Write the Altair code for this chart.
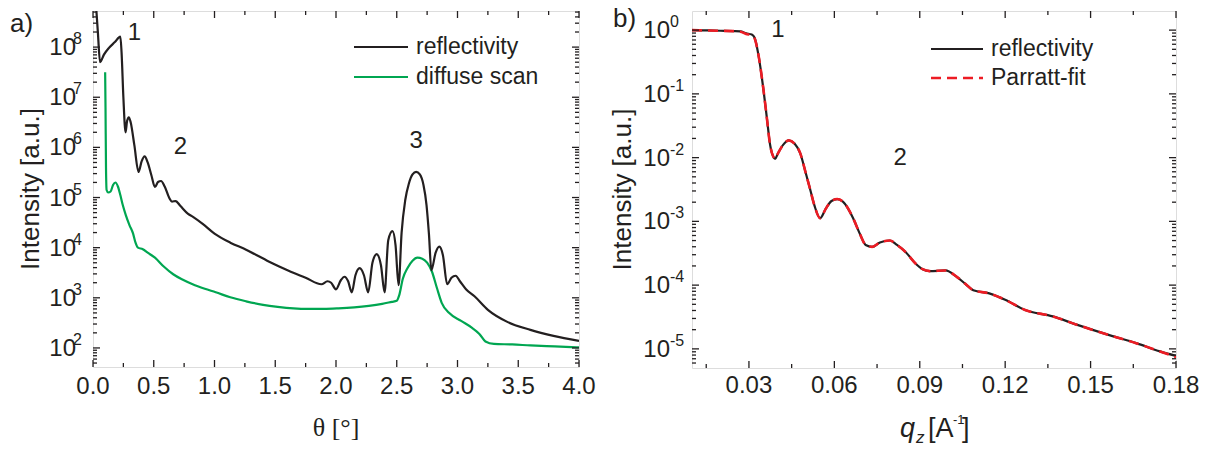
import altair as alt
import pandas as pd

BLACK = "#231f20"
GREEN = "#00a651"
RED = "#ed1c24"
FONT = "Liberation Sans"

# ---------------- panel a) : theta scan (values as log10 of intensity) ----------------
theta_refl = [0.02, 0.04, 0.058, 0.09, 0.13, 0.18, 0.225, 0.235, 0.25, 0.268, 0.28, 0.295, 0.31, 0.34,
              0.375, 0.40, 0.425, 0.45, 0.48, 0.51, 0.535, 0.56, 0.59, 0.63, 0.65, 0.68, 0.72, 0.78,
              0.82, 0.9, 1.0, 1.13, 1.26, 1.45, 1.61, 1.75, 1.88, 1.93, 1.96, 2.0, 2.04, 2.07, 2.10,
              2.13, 2.16, 2.195, 2.23, 2.265, 2.30, 2.335, 2.37, 2.40, 2.43, 2.465, 2.49, 2.515, 2.54,
              2.57, 2.60, 2.63, 2.66, 2.69, 2.72, 2.745, 2.765, 2.785, 2.82, 2.85, 2.88, 2.915, 2.95,
              2.985, 3.02, 3.07, 3.14, 3.25, 3.41, 3.60, 3.79, 4.0]
log_refl = [9.0, 8.3, 7.70, 7.85, 7.98, 8.10, 8.21, 7.9, 7.0, 6.30, 6.52, 6.60, 6.50, 6.05,
            5.51, 5.72, 5.82, 5.70, 5.45, 5.21, 5.31, 5.33, 5.22, 4.98, 4.92, 4.93, 4.83, 4.68,
            4.62, 4.48, 4.28, 4.10, 3.96, 3.72, 3.54, 3.40, 3.27, 3.33, 3.30, 3.17, 3.35, 3.42, 3.33,
            3.11, 3.45, 3.59, 3.45, 3.11, 3.70, 3.87, 3.65, 3.11, 4.15, 4.33, 4.05, 3.25, 4.30,
            4.95, 5.28, 5.46, 5.51, 5.46, 5.25, 4.85, 4.27, 3.55, 3.90, 4.02, 3.85, 3.27, 3.40,
            3.44, 3.33, 3.17, 3.03, 2.76, 2.52, 2.36, 2.24, 2.14]

theta_diff = [0.10, 0.103, 0.107, 0.112, 0.125, 0.145, 0.165, 0.185, 0.205, 0.225, 0.245, 0.27, 0.30,
              0.33, 0.35, 0.37, 0.41, 0.45, 0.51, 0.58, 0.66, 0.74, 0.82, 0.92, 1.01, 1.13, 1.26,
              1.40, 1.52, 1.65, 1.77, 1.90, 2.02, 2.15, 2.27, 2.38, 2.46, 2.50, 2.52, 2.55, 2.59,
              2.63, 2.67, 2.71, 2.75, 2.79, 2.83, 2.87, 2.93, 3.03, 3.12, 3.18, 3.23, 3.30, 3.45,
              3.60, 3.80, 4.0]
log_diff = [7.50, 6.8, 5.6, 5.15, 5.10, 5.12, 5.25, 5.30, 5.22, 5.05, 4.85, 4.65, 4.45,
            4.28, 4.10, 4.0, 3.97, 3.90, 3.80, 3.63, 3.47, 3.36, 3.27, 3.18, 3.11, 3.01, 2.93,
            2.86, 2.82, 2.79, 2.78, 2.78, 2.79, 2.81, 2.84, 2.88, 2.92, 2.94, 3.05, 3.38, 3.60,
            3.74, 3.80, 3.78, 3.70, 3.52, 3.20, 2.90, 2.70, 2.54, 2.40, 2.28, 2.13, 2.08, 2.07,
            2.05, 2.03, 2.01]

# ---------------- panel b) : qz scan (values as log10 of intensity) ----------------
qz_refl = [0.010, 0.015, 0.020, 0.0245, 0.027, 0.029, 0.031, 0.032, 0.0333, 0.035, 0.0363, 0.0374,
           0.0385, 0.0392, 0.040, 0.042, 0.044, 0.046, 0.048, 0.050, 0.0514, 0.053, 0.055, 0.057,
           0.059, 0.061, 0.063, 0.0666, 0.069, 0.071, 0.0733, 0.076, 0.0795, 0.082, 0.085, 0.0885,
           0.091, 0.0935, 0.099, 0.103, 0.106, 0.1088, 0.1144, 0.12, 0.127, 0.1367, 0.1451,
           0.1577, 0.166, 0.1744, 0.18]
log_qrefl = [0.0, -0.005, -0.01, -0.015, -0.02, -0.05, -0.07, -0.12, -0.38, -0.9, -1.38, -1.79,
             -1.98, -2.02, -1.95, -1.80, -1.73, -1.78, -1.93, -2.25, -2.48, -2.75, -2.95, -2.80,
             -2.68, -2.65, -2.69, -2.95, -3.20, -3.37, -3.40, -3.33, -3.30, -3.37, -3.48, -3.66,
             -3.75, -3.78, -3.77, -3.87, -3.98, -4.08, -4.13, -4.23, -4.39, -4.49, -4.62,
             -4.80, -4.91, -5.04, -5.11]
qz_fit = [0.010, 0.015, 0.020, 0.0245, 0.027, 0.029, 0.031, 0.032, 0.0333, 0.035, 0.0363, 0.0374,
          0.0385, 0.0392, 0.040, 0.042, 0.044, 0.046, 0.048, 0.050, 0.0514, 0.053, 0.055, 0.057,
          0.059, 0.061, 0.063, 0.0666, 0.069, 0.071, 0.0733, 0.076, 0.0795, 0.082, 0.085, 0.0885,
          0.091, 0.0935, 0.099, 0.103, 0.106, 0.1088, 0.1144, 0.12, 0.127, 0.1367, 0.1451,
          0.1577, 0.166, 0.1744, 0.18]
log_fit = [0.0, -0.005, -0.01, -0.015, -0.025, -0.06, -0.08, -0.13, -0.38, -0.9, -1.38, -1.79,
           -1.98, -2.02, -1.95, -1.80, -1.73, -1.78, -1.93, -2.25, -2.48, -2.75, -2.95, -2.80,
           -2.68, -2.65, -2.69, -2.95, -3.20, -3.37, -3.40, -3.33, -3.30, -3.37, -3.48, -3.66,
           -3.75, -3.78, -3.77, -3.87, -3.98, -4.08, -4.13, -4.23, -4.39, -4.49, -4.62,
           -4.80, -4.91, -5.04, -5.13]

# axis values and tick labels
xa_major = [0.0, 0.5, 1.0, 1.5, 2.0, 2.5, 3.0, 3.5, 4.0]
xa_labels = ["0.0", "0.5", "1.0", "1.5", "2.0", "2.5", "3.0", "3.5", "4.0"]
xa_minor = [0.25, 0.75, 1.25, 1.75, 2.25, 2.75, 3.25, 3.75]
ya_exps = [2, 3, 4, 5, 6, 7, 8]
xb_major = [0.03, 0.06, 0.09, 0.12, 0.15, 0.18]
xb_labels = ["0.03", "0.06", "0.09", "0.12", "0.15", "0.18"]
xb_minor = [0.015, 0.045, 0.075, 0.105, 0.135, 0.165]
yb_exps = [-5, -4, -3, -2, -1, 0]

WA, HA = 486, 356
WB, HB = 484, 357
YA_DOM = [10 ** 1.62, 10 ** 8.72]
YB_DOM = [10 ** -5.30, 10 ** 0.30]

xa = alt.Scale(domain=[0, 4], nice=False, zero=False)
ya = alt.Scale(type="log", domain=YA_DOM, nice=False)
xb = alt.Scale(domain=[0.01, 0.18], nice=False, zero=False)
yb = alt.Scale(type="log", domain=YB_DOM, nice=False)


def minor_log(dom, e_lo, e_hi):
    out = []
    for e in range(e_lo, e_hi + 1):
        for k in range(2, 10):
            v = k * 10.0 ** e
            if dom[0] <= v <= dom[1]:
                out.append(v)
    return out


def one(**kw):
    return pd.DataFrame({k: [v] for k, v in kw.items()})


def tick_layers(xs, ys, xmaj, xmin, ymaj, ymin, W, H):
    layers = []
    for vals, L in ((xmaj, 7), (xmin, 4)):
        d = pd.DataFrame({"t": vals})
        base = alt.Chart(d).mark_rule(color=BLACK, strokeWidth=1.3)
        layers.append(base.encode(x=alt.X("t:Q", scale=xs, axis=None), y=alt.value(H), y2=alt.value(H - L)))
        layers.append(base.encode(x=alt.X("t:Q", scale=xs, axis=None), y=alt.value(0), y2=alt.value(L)))
    for vals, L in ((ymaj, 7), (ymin, 4)):
        d = pd.DataFrame({"t": vals})
        base = alt.Chart(d).mark_rule(color=BLACK, strokeWidth=1.3)
        layers.append(base.encode(y=alt.Y("t:Q", scale=ys, axis=None), x=alt.value(0), x2=alt.value(L)))
        layers.append(base.encode(y=alt.Y("t:Q", scale=ys, axis=None), x=alt.value(W), x2=alt.value(W - L)))
    return layers


def xlabel_layer(xs, vals, labels, y):
    d = pd.DataFrame({"v": vals, "lab": labels})
    return alt.Chart(d).mark_text(font=FONT, fontSize=24, align="center", baseline="top", color=BLACK).encode(
        x=alt.X("v:Q", scale=xs, axis=None), y=alt.value(y), text="lab:N")


def ylabel_layers(ys, exps, base_x, exp_x):
    d = pd.DataFrame({"v": [10.0 ** e for e in exps], "e": [str(e) for e in exps]})
    b = alt.Chart(d).mark_text(font=FONT, fontSize=24, align="right", baseline="middle", color=BLACK, dy=1).encode(
        y=alt.Y("v:Q", scale=ys, axis=None), x=alt.value(base_x), text=alt.value("10"))
    s = alt.Chart(d).mark_text(font=FONT, fontSize=16, align="left", baseline="middle", color=BLACK, dy=-8).encode(
        y=alt.Y("v:Q", scale=ys, axis=None), x=alt.value(exp_x), text="e:N")
    return [b, s]


def txt(text, x, y, size=24, font=FONT, align="left", baseline="alphabetic", angle=0, style="normal"):
    return alt.Chart(one(t=text)).mark_text(font=font, fontSize=size, align=align, baseline=baseline,
                                            angle=angle, fontStyle=style, color=BLACK).encode(
        x=alt.value(x), y=alt.value(y), text="t:N")


def legend_row(x0, x1, y, color, label, dash=None, width=2.2):
    kw = dict(color=color, strokeWidth=width)
    if dash:
        kw["strokeDash"] = dash
    line = alt.Chart(one(t=label)).mark_rule(**kw).encode(x=alt.value(x0), x2=alt.value(x1), y=alt.value(y))
    lab = txt(label, x1 + 8, y, size=23, baseline="middle")
    return [line, lab]


# ---------------- build panel a ----------------
df_ar = pd.DataFrame({"theta": theta_refl, "I": [10 ** v for v in log_refl]})
df_ad = pd.DataFrame({"theta": theta_diff, "I": [10 ** v for v in log_diff]})

la_refl = alt.Chart(df_ar).mark_line(color=BLACK, strokeWidth=2.2, clip=True, interpolate="monotone").encode(
    x=alt.X("theta:Q", scale=xa, axis=None), y=alt.Y("I:Q", scale=ya, axis=None))
la_diff = alt.Chart(df_ad).mark_line(color=GREEN, strokeWidth=2.2, clip=True, interpolate="monotone").encode(
    x=alt.X("theta:Q", scale=xa, axis=None), y=alt.Y("I:Q", scale=ya, axis=None))

ann_a = pd.DataFrame({"x": [0.34, 0.72, 2.66], "y": [10 ** 8.29, 10 ** 6.0, 10 ** 6.12], "t": ["1", "2", "3"]})
la_ann = alt.Chart(ann_a).mark_text(font=FONT, fontSize=24, color=BLACK, baseline="middle").encode(
    x=alt.X("x:Q", scale=xa, axis=None), y=alt.Y("y:Q", scale=ya, axis=None), text="t:N")

layers_a = [la_diff, la_refl, la_ann]
layers_a += tick_layers(xa, ya, xa_major, xa_minor, [10.0 ** e for e in ya_exps],
                        minor_log(YA_DOM, 1, 8), WA, HA)
layers_a += ylabel_layers(ya, ya_exps, -17, -20)
layers_a += [xlabel_layer(xa, xa_major, xa_labels, HA + 8)]
layers_a += [txt("Intensity [a.u.]", -62, HA / 2, size=26, align="center", baseline="middle", angle=270),
             txt("θ [°]", WA / 2, HA + 69, size=26, font="Liberation Serif", align="center"),
             txt("a)", -83, 21, size=26)]
layers_a += legend_row(261, 315, 36, BLACK, "reflectivity")
layers_a += legend_row(261, 315, 66, GREEN, "diffuse scan")

panel_a = alt.layer(*layers_a).properties(width=WA, height=HA)

# ---------------- build panel b ----------------
df_br = pd.DataFrame({"q": qz_refl, "I": [10 ** v for v in log_qrefl]})
df_bf = pd.DataFrame({"q": qz_fit, "I": [10 ** v for v in log_fit]})

lb_refl = alt.Chart(df_br).mark_line(color=BLACK, strokeWidth=2.2, clip=True, interpolate="monotone").encode(
    x=alt.X("q:Q", scale=xb, axis=None), y=alt.Y("I:Q", scale=yb, axis=None))
lb_fit = alt.Chart(df_bf).mark_line(color=RED, strokeWidth=2.6, strokeDash=[10, 6], clip=True,
                                    interpolate="monotone").encode(
    x=alt.X("q:Q", scale=xb, axis=None), y=alt.Y("I:Q", scale=yb, axis=None))

ann_b = pd.DataFrame({"x": [0.0402, 0.0831], "y": [10 ** 0.0, 10 ** -2.0], "t": ["1", "2"]})
lb_ann = alt.Chart(ann_b).mark_text(font=FONT, fontSize=24, color=BLACK, baseline="middle").encode(
    x=alt.X("x:Q", scale=xb, axis=None), y=alt.Y("y:Q", scale=yb, axis=None), text="t:N")

layers_b = [lb_refl, lb_fit, lb_ann]
layers_b += tick_layers(xb, yb, xb_major, xb_minor, [10.0 ** e for e in yb_exps],
                        minor_log(YB_DOM, -6, 0), WB, HB)
layers_b += ylabel_layers(yb, yb_exps, -22, -22)
layers_b += [xlabel_layer(xb, xb_major, xb_labels, HB + 6)]
layers_b += [txt("Intensity [a.u.]", -69, HB / 2, size=26, align="center", baseline="middle", angle=270),
             txt("q", 208, HB + 69, size=27, style="italic"),
             txt("z", 224, HB + 75, size=17, style="italic"),
             txt("[A", 236, HB + 69, size=27),
             txt("-1", 261, HB + 56, size=13),
             txt("]", 270, HB + 69, size=27),
             txt("b)", -79, 16, size=26)]
layers_b += legend_row(239, 291, 38, BLACK, "reflectivity")
layers_b += legend_row(239, 291, 67, RED, "Parratt-fit", dash=[10, 6], width=2.6)

panel_b = alt.layer(*layers_b).properties(width=WB, height=HB)

chart = alt.hconcat(panel_a, panel_b, spacing=12).properties(
    padding={"left": 9, "top": 5, "right": 5, "bottom": 5}
).configure_view(stroke=BLACK, strokeWidth=1.5).configure(background="white")

chart.save("out.html", embed_options={"renderer": "svg", "actions": False})
